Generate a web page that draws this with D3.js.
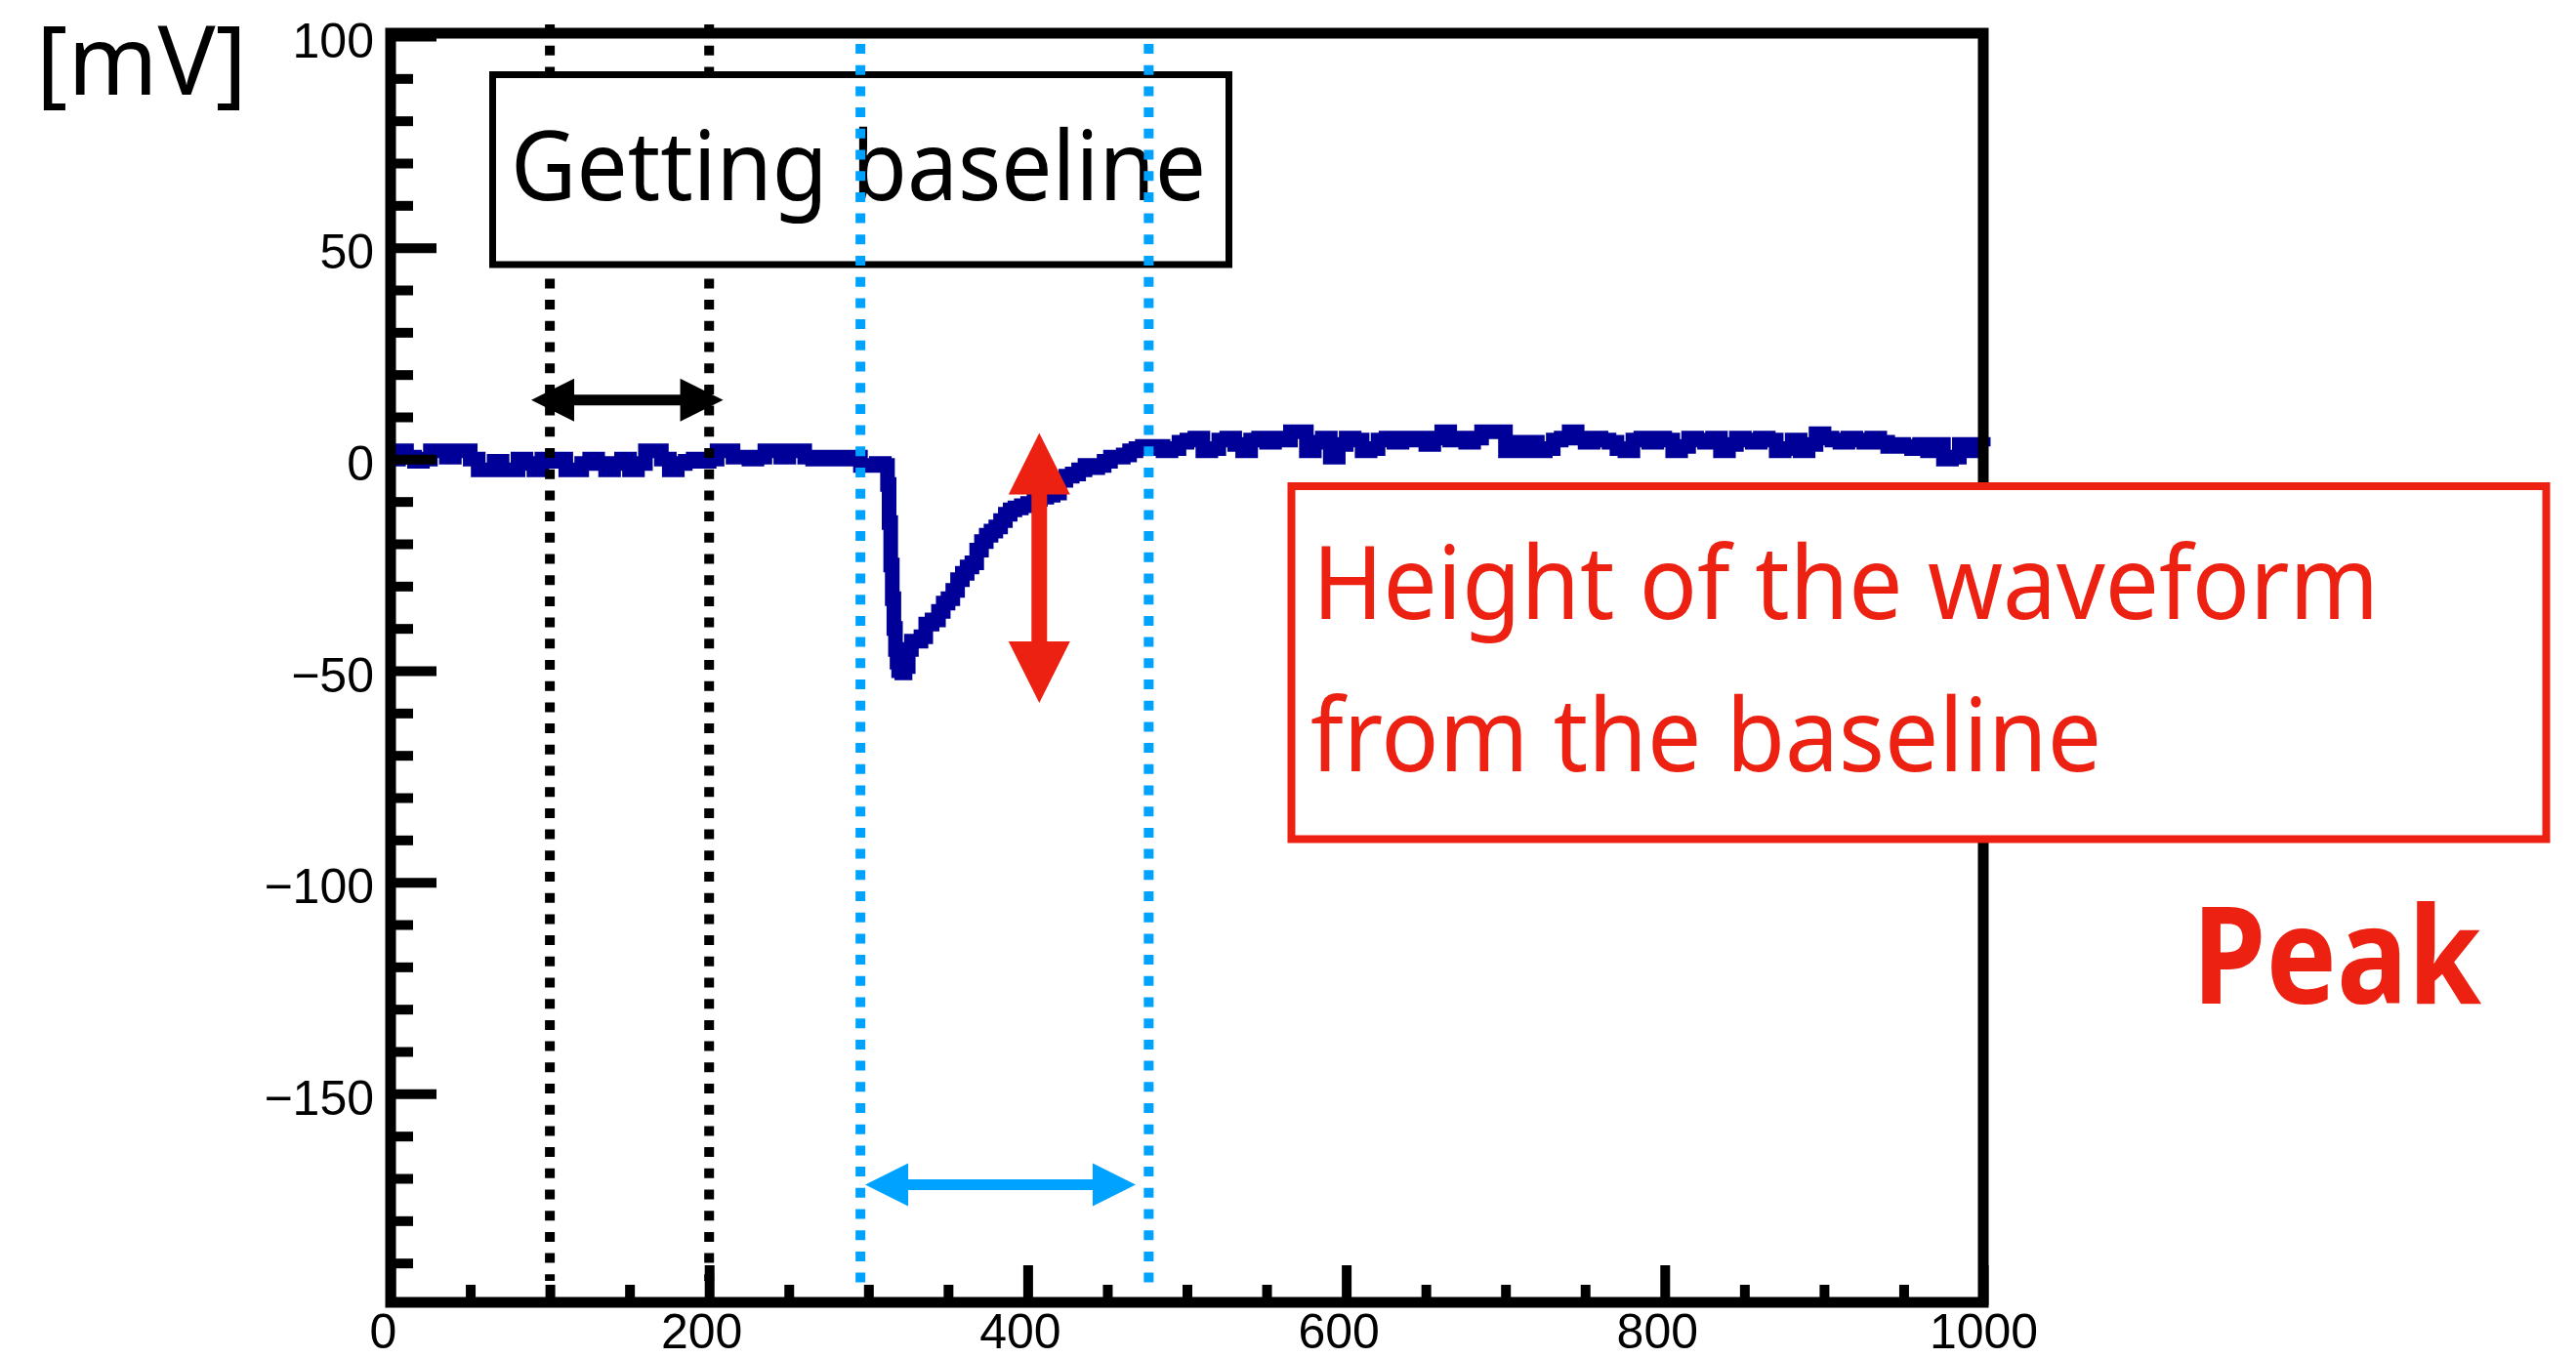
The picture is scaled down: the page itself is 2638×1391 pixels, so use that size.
<!DOCTYPE html>
<html>
<head>
<meta charset="utf-8">
<script src="https://cdn.jsdelivr.net/npm/d3@7"></script>
<style>
  html, body { margin: 0; padding: 0; background: #fff; }
  svg { display: block; }
</style>
</head>
<body>
<svg width="2638" height="1391"></svg>
<script>
// waveform: time (ns) and amplitude (mV)
const timeNs = [
  0, 5, 10, 15, 20, 25, 30, 35, 40, 45, 50, 55, 60, 65, 70, 75, 80, 85, 90, 95,
  100, 105, 110, 115, 120, 125, 130, 135, 140, 145, 150, 155, 160, 165, 170, 175, 180, 185, 190, 195,
  200, 205, 210, 215, 220, 225, 230, 235, 240, 245, 250, 255, 260, 265, 270, 275, 280, 285, 290, 295,
  300, 305, 310, 312, 313, 314, 315, 316, 317, 318, 319, 321, 323, 325, 327, 330, 333, 336, 340, 344,
  347, 350, 353, 356, 359, 362, 365, 368, 371, 374, 377, 380, 383, 386, 389, 392, 396, 400, 404, 408,
  412, 416, 420, 424, 428, 432, 436, 440, 444, 448, 452, 456, 460, 464, 468, 472, 476, 480, 485, 490,
  495, 500, 505, 510, 515, 520, 525, 530, 535, 540, 545, 550, 555, 560, 565, 570, 575, 580, 585, 590,
  595, 600, 605, 610, 615, 620, 625, 630, 635, 640, 645, 650, 655, 660, 665, 670, 675, 680, 685, 690,
  695, 700, 705, 710, 715, 720, 725, 730, 735, 740, 745, 750, 755, 760, 765, 770, 775, 780, 785, 790,
  795, 800, 805, 810, 815, 820, 825, 830, 835, 840, 845, 850, 855, 860, 865, 870, 875, 880, 885, 890,
  895, 900, 905, 910, 915, 920, 925, 930, 935, 940, 945, 950, 955, 960, 965, 970, 975, 980, 985, 990,
  995, 1000
];
const amplitudeMV = [
  0, 2, 0.5, -0.5, 0, 2, 2, 0.5, 2, 2, 0, -2.5, -2.5, -0.5, -2.5, -2.5, 0, -1, -2.5, 0,
  -0.5, 0, -2.5, -2.5, -1, 0, -1, -2.5, -1, 0, -2.5, -1, 2, 2, 0, -2.5, -1, -0.5, 0, -0.5,
  0, 2, 2, 0.5, 0.5, 0, 0.5, 2, 2, 0.5, 2, 2, 0.5, 0, 0.5, 0, 0.5, 0, 0.5, -1.5,
  -1.5, -1, -1.5, -6, -15, -25, -33, -40, -45, -48, -50, -50.5, -49, -45, -43, -43, -42, -39, -38, -36,
  -34, -33, -31, -28.5, -27, -25.5, -24.5, -21.5, -19.5, -18, -17, -16, -14.5, -13, -12, -11.5, -11, -10.5, -9.5, -9,
  -8.5, -8, -5, -4, -3.5, -2.5, -1.5, -2, -1.5, -0.5, 0.5, 0.5, 1, 2, 2.5, 3, 2.5, 3, 2, 2.5,
  4, 4.5, 5, 2, 2.5, 4.5, 5, 3.5, 2, 4.5, 5, 4, 5, 4.5, 6.5, 6.5, 2, 4, 5, 0.5,
  3.5, 5, 4.5, 2, 2.5, 4.5, 5, 4, 5, 4.5, 5, 3.5, 5, 6.5, 4.5, 5, 4, 5, 6.5, 6.5,
  6.5, 2, 4, 2, 4, 2, 2.5, 4.5, 5, 6.5, 5, 4, 5, 4.5, 4, 2.5, 2, 4.5, 5, 4,
  5, 4.5, 2, 3, 5, 4.5, 4, 5, 2, 3.5, 5, 4.5, 4, 5, 4.5, 2, 2.5, 4.5, 2, 3.5,
  6, 5, 4.5, 4, 5, 4.5, 4, 5, 4, 3, 3.5, 3, 2.5, 3.5, 2, 3.5, 0, 0.5, 3.5, 2,
  3.5, 3
];

const xTicks = [0, 200, 400, 600, 800, 1000];
const yTicks = [-150, -100, -50, 0, 50, 100];
const baselineWindow = [100, 200];   // ns, black dotted lines
const peakWindow = [295, 476];       // ns, blue dotted lines

const BLACK = "#000", NAVY = "#000099", SKY = "#00a2ff", RED = "#ed2112";
const tickFont = "'Liberation Sans', Arial, Helvetica, sans-serif";
const noteFont = "'Noto Sans', 'DejaVu Sans', sans-serif";

const svg = d3.select("svg");

const x = d3.scaleLinear().domain([0, 1000]).range([400, 2031]);
const y = d3.scaleLinear().domain([-200, 100]).range([1337, 37]);

// waveform
const line = d3.line()
  .x(d => x(d[0]))
  .y(d => y(d[1]))
  .curve(d3.curveStepAfter);

svg.append("path")
  .datum(d3.zip(timeNs, amplitudeMV))
  .attr("fill", "none")
  .attr("stroke", NAVY)
  .attr("stroke-width", 15)
  .attr("d", line);

// axes, ticks point inward like ROOT
const minus = d => d < 0 ? "\u2212" + Math.abs(d) : String(d);

function styleAxis(g, tickWidth) {
  g.select(".domain").remove();
  g.selectAll(".tick line").attr("stroke", BLACK).attr("stroke-width", tickWidth);
  g.selectAll(".tick text")
    .attr("fill", BLACK)
    .attr("font-size", 50)
    .attr("font-family", tickFont);
}

const yMinor = d3.range(-200, 101, 10).filter(v => v % 50 !== 0);
const xMinor = d3.range(0, 1001, 50).filter(v => v % 200 !== 0);

svg.append("g")
  .attr("transform", `translate(${x(0)},0)`)
  .call(d3.axisLeft(y).tickValues(yMinor).tickSize(-23).tickFormat(() => ""))
  .call(g => styleAxis(g, 10));

svg.append("g")
  .attr("transform", `translate(${x(0)},0)`)
  .call(d3.axisLeft(y).tickValues(yTicks).tickSize(-47).tickPadding(17).tickFormat(minus))
  .call(g => styleAxis(g, 10))
  .call(g => g.selectAll(".tick text").attr("dy", "0.42em"));

svg.append("g")
  .attr("transform", `translate(0,${y(-200)})`)
  .call(d3.axisBottom(x).tickValues(xMinor).tickSize(-21).tickFormat(() => ""))
  .call(g => styleAxis(g, 10));

svg.append("g")
  .attr("transform", `translate(0,${y(-200)})`)
  .call(d3.axisBottom(x).tickValues(xTicks).tickSize(-41).tickPadding(8).tickFormat(minus))
  .call(g => styleAxis(g, 10))
  .call(g => g.selectAll(".tick text").attr("dx", d => d === 1000 ? 0 : -8));

// frame
svg.append("rect")
  .attr("x", x(0))
  .attr("y", y(100) - 3)
  .attr("width", x(1000) - x(0))
  .attr("height", y(-200) - y(100))
  .attr("fill", "none")
  .attr("stroke", BLACK)
  .attr("stroke-width", 11);

// unit label
svg.append("text")
  .attr("x", 37).attr("y", 97)
  .attr("font-family", noteFont)
  .attr("font-size", 98)
  .attr("textLength", 216)
  .attr("lengthAdjust", "spacingAndGlyphs")
  .attr("fill", BLACK)
  .text("[mV]");

function dottedLines(values, color, top, bottom) {
  svg.append("g").selectAll("line")
    .data(values)
    .join("line")
    .attr("x1", d => x(d)).attr("x2", d => x(d))
    .attr("y1", top).attr("y2", bottom)
    .attr("stroke", color)
    .attr("stroke-width", 10)
    .attr("stroke-dasharray", "10 11.7");
}

// double headed arrow as a polygon between two pixel points
function doubleArrow(p0, p1, head, width, shaft, color) {
  const dx = p1[0] - p0[0], dy = p1[1] - p0[1];
  const len = Math.hypot(dx, dy);
  const ux = dx / len, uy = dy / len, nx = -uy, ny = ux;
  const at = (s, o) => [p0[0] + ux * s + nx * o, p0[1] + uy * s + ny * o];
  const pts = [
    at(0, 0), at(head, -width / 2), at(head, -shaft / 2), at(len - head, -shaft / 2),
    at(len - head, -width / 2), at(len, 0), at(len - head, width / 2), at(len - head, shaft / 2),
    at(head, shaft / 2), at(head, width / 2)
  ];
  svg.append("polygon")
    .attr("points", pts.map(p => p.join(",")).join(" "))
    .attr("fill", color);
}

// baseline window
dottedLines(baselineWindow, BLACK, 25, 1312);

svg.append("rect")
  .attr("x", 504.5).attr("y", 76.5)
  .attr("width", 754).attr("height", 194.5)
  .attr("fill", "#fff")
  .attr("stroke", BLACK)
  .attr("stroke-width", 7);

svg.append("text")
  .attr("x", 523).attr("y", 205)
  .attr("font-family", noteFont)
  .attr("font-size", 98)
  .attr("textLength", 712)
  .attr("lengthAdjust", "spacingAndGlyphs")
  .attr("fill", BLACK)
  .text("Getting baseline");

// peak search window
dottedLines(peakWindow, SKY, 45, 1314);

// peak height note
svg.append("rect")
  .attr("x", 1322.5).attr("y", 498)
  .attr("width", 1285).attr("height", 361.5)
  .attr("fill", "#fff")
  .attr("stroke", RED)
  .attr("stroke-width", 8);

const noteLines = [
  { text: "Height of the waveform", x: 1344, y: 634, len: 1092 },
  { text: "from the baseline", x: 1342, y: 790, len: 810 }
];
svg.append("g").selectAll("text")
  .data(noteLines)
  .join("text")
  .attr("x", d => d.x).attr("y", d => d.y)
  .attr("font-family", noteFont)
  .attr("font-size", 104)
  .attr("textLength", d => d.len)
  .attr("lengthAdjust", "spacingAndGlyphs")
  .attr("fill", RED)
  .text(d => d.text);

// arrows
doubleArrow([x(88.3), y(14)], [x(208.8), y(14)], 44, 44, 11, BLACK);
doubleArrow([x(298), y(-171.5)], [x(467.8), y(-171.5)], 44, 44, 11, SKY);
doubleArrow([x(407.3), y(6.2)], [x(407.3), y(-57.6)], 63, 63, 16, RED);

svg.append("text")
  .attr("x", 2245).attr("y", 1028)
  .attr("font-family", noteFont)
  .attr("font-weight", "bold")
  .attr("font-size", 139)
  .attr("textLength", 296)
  .attr("lengthAdjust", "spacingAndGlyphs")
  .attr("fill", RED)
  .text("Peak");
</script>
</body>
</html>
